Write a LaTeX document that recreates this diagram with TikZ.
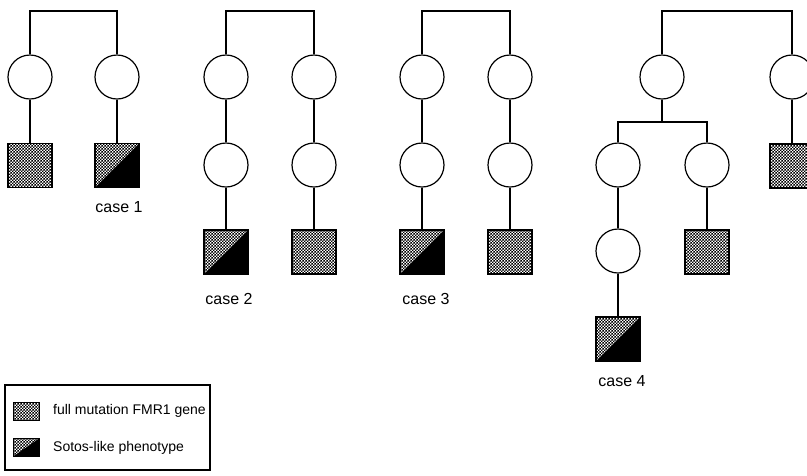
\documentclass[tikz,border=0pt]{standalone}
\usepackage{fontspec}
\setmainfont{Liberation Sans}
\usetikzlibrary{patterns}
\pgfdeclarepatternformonly{stipple}{\pgfqpoint{0pt}{0pt}}{\pgfqpoint{3.4pt}{3.4pt}}{\pgfqpoint{3.4pt}{3.4pt}}{%
  \pgfpathrectangle{\pgfqpoint{0pt}{0pt}}{\pgfqpoint{1.7pt}{1.7pt}}%
  \pgfpathrectangle{\pgfqpoint{1.7pt}{1.7pt}}{\pgfqpoint{1.7pt}{1.7pt}}%
  \pgfusepath{fill}}
\tikzset{
  female/.style={circle, draw, line width=1.2pt, minimum size=44pt, inner sep=0pt},
  affected/.style={rectangle, draw, line width=1.2pt, minimum size=44pt, inner sep=0pt, pattern=stipple},
  sotos/.style={rectangle, draw, line width=1.2pt, minimum size=44pt, inner sep=0pt,
    path picture={
      \fill[pattern=stipple] (path picture bounding box.south west) -- (path picture bounding box.north west) -- (path picture bounding box.north east) -- cycle;
      \fill[black] (path picture bounding box.south west) -- (path picture bounding box.south east) -- (path picture bounding box.north east) -- cycle;}},
  conn/.style={line width=1.8pt},
  caselabel/.style={font=\fontsize{16}{19}\selectfont},
  legtext/.style={font=\fontsize{14}{17}\selectfont, anchor=west, inner sep=0pt},
}
\begin{document}
\begin{tikzpicture}[x=1pt, y=-1pt]
\useasboundingbox (0,0) rectangle (807,475);
\clip (0,0) rectangle (807,475);
\coordinate (top) at (0,11);
\coordinate (sub) at (0,122);
% family 1
\node[female] (f1a) at (30,77) {};
\node[female] (f1b) at (117,77) {};
\node[affected] (s1a) at (30,165.5) {};
\node[sotos] (s1b) at (117,165.5) {};
\node[caselabel] (c1) at (119,207) {case 1};
\draw[conn] (f1a.north) -- (f1a.north |- top) -- (f1b.north |- top) -- (f1b.north);
\draw[conn] (f1a) -- (s1a);
\draw[conn] (f1b) -- (s1b);
% family 2
\node[female] (f2a) at (226,77) {};
\node[female] (f2b) at (314,77) {};
\node[female] (f2c) at (226,165) {};
\node[female] (f2d) at (314,165) {};
\node[sotos] (s2a) at (226,252) {};
\node[affected] (s2b) at (314,252) {};
\node[caselabel] (c2) at (229,299) {case 2};
\draw[conn] (f2a.north) -- (f2a.north |- top) -- (f2b.north |- top) -- (f2b.north);
\draw[conn] (f2a) -- (f2c);
\draw[conn] (f2b) -- (f2d);
\draw[conn] (f2c) -- (s2a);
\draw[conn] (f2d) -- (s2b);
% family 3
\node[female] (f3a) at (422,77) {};
\node[female] (f3b) at (510,77) {};
\node[female] (f3c) at (422,165) {};
\node[female] (f3d) at (510,165) {};
\node[sotos] (s3a) at (422,252) {};
\node[affected] (s3b) at (510,252) {};
\node[caselabel] (c3) at (426,299) {case 3};
\draw[conn] (f3a.north) -- (f3a.north |- top) -- (f3b.north |- top) -- (f3b.north);
\draw[conn] (f3a) -- (f3c);
\draw[conn] (f3b) -- (f3d);
\draw[conn] (f3c) -- (s3a);
\draw[conn] (f3d) -- (s3b);
% family 4
\node[female] (f4a) at (662,77) {};
\node[female] (f4b) at (792,77) {};
\node[affected] (s4b) at (792,166) {};
\node[female] (f4c) at (618,165) {};
\node[female] (f4d) at (707,165) {};
\node[female] (f4e) at (618,251) {};
\node[affected] (s4c) at (707,252) {};
\node[sotos] (s4a) at (618,339) {};
\node[caselabel] (c4) at (622,381) {case 4};
\draw[conn] (f4a.north) -- (f4a.north |- top) -- (f4b.north |- top) -- (f4b.north);
\draw[conn] (f4b) -- (s4b);
\draw[conn] (f4a.south) -- (f4a.south |- sub);
\draw[conn] (f4c.north) -- (f4c.north |- sub) -- (f4d.north |- sub) -- (f4d.north);
\draw[conn] (f4c) -- (f4e);
\draw[conn] (f4e) -- (s4a);
\draw[conn] (f4d) -- (s4c);
% legend
\node[draw, line width=1.2pt, minimum width=205pt, minimum height=85pt, inner sep=0pt] (leg) at (107.5,427.5) {};
\node[rectangle, draw, line width=1pt, minimum width=26pt, minimum height=18pt, inner sep=0pt, pattern=stipple] (l1) at (26,411) {};
\node[rectangle, draw, line width=1pt, minimum width=26pt, minimum height=18pt, inner sep=0pt,
    path picture={
      \fill[pattern=stipple] (path picture bounding box.south west) -- (path picture bounding box.north west) -- (path picture bounding box.north east) -- cycle;
      \fill[black] (path picture bounding box.south west) -- (path picture bounding box.south east) -- (path picture bounding box.north east) -- cycle;}] (l2) at (26,447.5) {};
\node[legtext] (t1) at (53,411) {full mutation FMR1 gene};
\node[legtext] (t2) at (53,447.5) {Sotos-like phenotype};
\end{tikzpicture}
\end{document}
